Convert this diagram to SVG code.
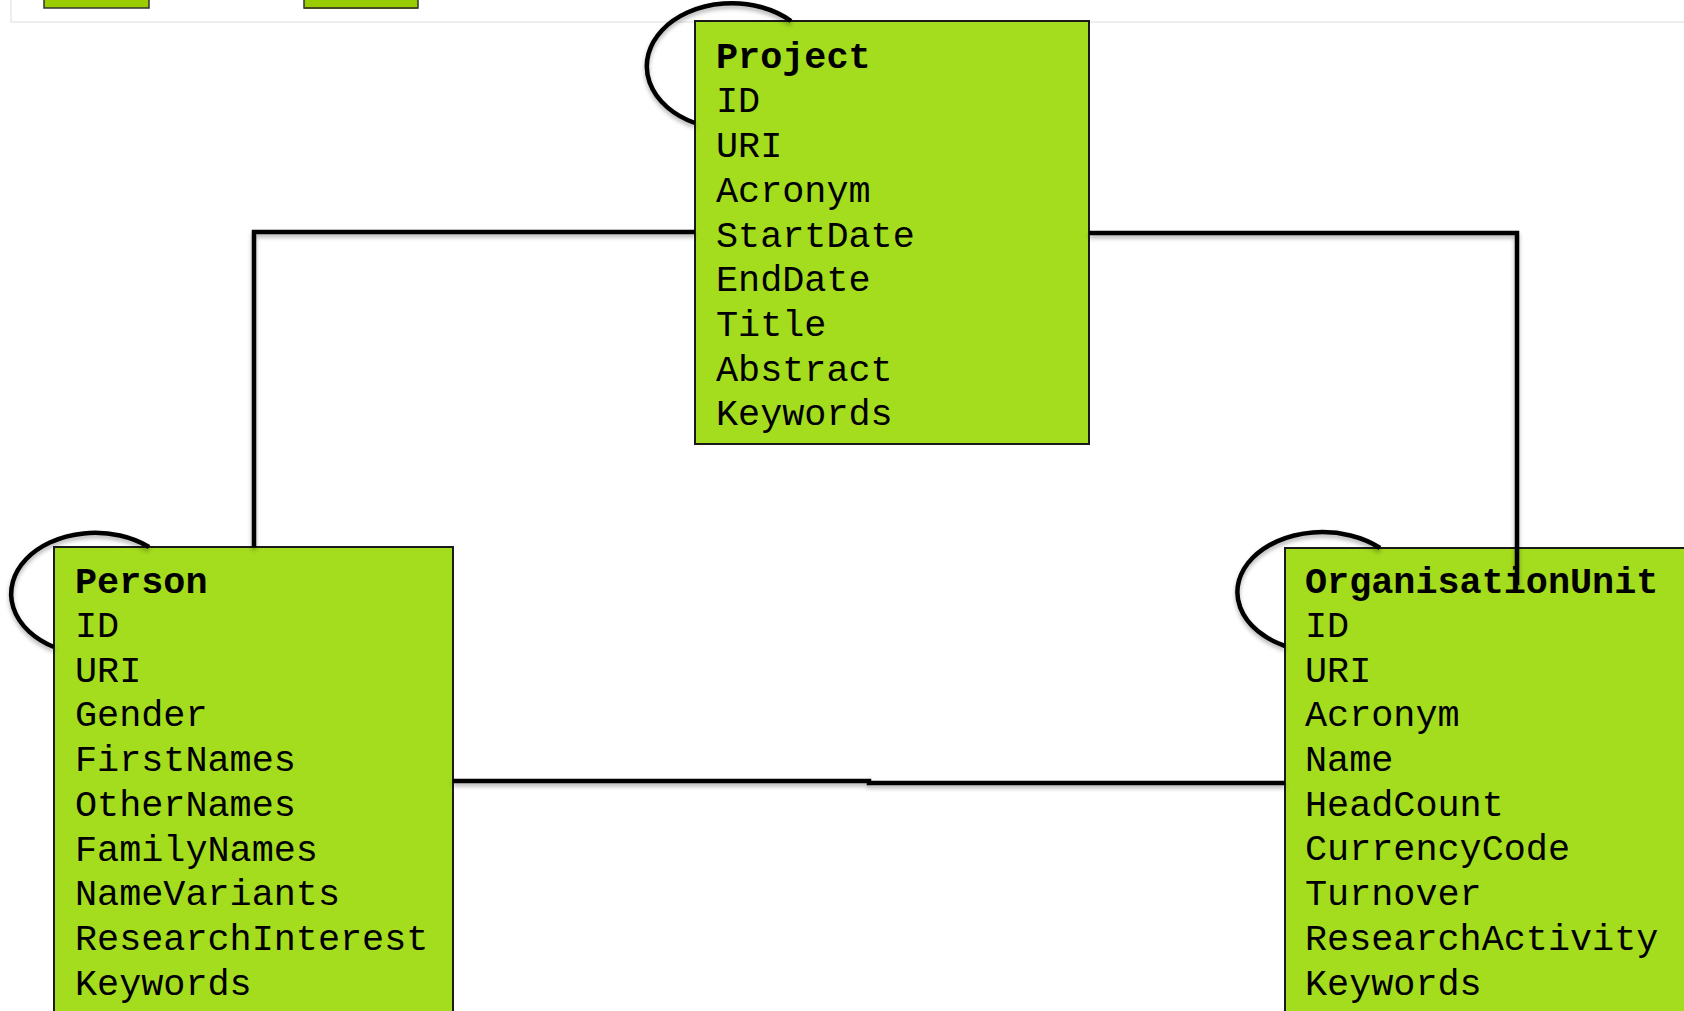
<svg xmlns="http://www.w3.org/2000/svg" width="1684" height="1011" viewBox="0 0 1684 1011">
<defs>
<filter id="sh" x="-5%" y="-20%" width="110%" height="140%">
<feDropShadow dx="0" dy="3" stdDeviation="2" flood-color="#000" flood-opacity="0.3"/>
</filter>
<style>
.box{fill:#A4DC1E;stroke:#1a1a1a;stroke-width:2}
.t{font-family:"Liberation Mono","Courier New",monospace;font-size:36.8px;fill:#000}
.b{font-weight:bold}
.c{fill:none;stroke:#000;stroke-width:4.5}
.mini{fill:#9ACD00;stroke:#333;stroke-width:1.5}
</style>
</defs>
<rect width="1684" height="1011" fill="#fff"/>
<g id="panel">
<rect x="11" y="-10" width="1700" height="32" fill="#fff" stroke="#eeeeee" stroke-width="2"/>
<rect class="mini" x="44" y="-5" width="105" height="13"/>
<rect class="mini" x="304" y="-5" width="114" height="13"/>
<line x1="304" y1="8" x2="418" y2="8" stroke="#4a4a20" stroke-width="2"/>
</g>
<g id="project">
<rect class="box" x="695" y="21" width="394" height="423"/>
<text class="t b" x="716" y="68">Project</text>
<text class="t" x="716" y="112">ID</text>
<text class="t" x="716" y="157">URI</text>
<text class="t" x="716" y="202">Acronym</text>
<text class="t" x="716" y="247">StartDate</text>
<text class="t" x="716" y="291">EndDate</text>
<text class="t" x="716" y="336">Title</text>
<text class="t" x="716" y="381">Abstract</text>
<text class="t" x="716" y="425">Keywords</text>
</g>
<g id="person">
<rect class="box" x="54" y="547" width="399" height="480"/>
<text class="t b" x="75" y="593">Person</text>
<text class="t" x="75" y="637">ID</text>
<text class="t" x="75" y="682">URI</text>
<text class="t" x="75" y="726">Gender</text>
<text class="t" x="75" y="771">FirstNames</text>
<text class="t" x="75" y="816">OtherNames</text>
<text class="t" x="75" y="861">FamilyNames</text>
<text class="t" x="75" y="905">NameVariants</text>
<text class="t" x="75" y="950">ResearchInterest</text>
<text class="t" x="75" y="995">Keywords</text>
</g>
<g id="organisationunit">
<rect class="box" x="1285" y="548" width="420" height="480"/>
<text class="t b" x="1305" y="593">OrganisationUnit</text>
<text class="t" x="1305" y="637">ID</text>
<text class="t" x="1305" y="682">URI</text>
<text class="t" x="1305" y="726">Acronym</text>
<text class="t" x="1305" y="771">Name</text>
<text class="t" x="1305" y="816">HeadCount</text>
<text class="t" x="1305" y="860">CurrencyCode</text>
<text class="t" x="1305" y="905">Turnover</text>
<text class="t" x="1305" y="950">ResearchActivity</text>
<text class="t" x="1305" y="995">Keywords</text>
</g>
<g id="connectors" filter="url(#sh)">
<path class="c" d="M 791 21 A 85 63 0 1 0 695 123"/>
<path class="c" d="M 149 547 A 84 61 0 1 0 54 647"/>
<path class="c" d="M 1380 548 A 85 60 0 1 0 1285 646"/>
<path class="c" d="M 254 547 L 254 232 L 695 232"/>
<path class="c" d="M 1089 233 L 1517 233 L 1517 585"/>
<path class="c" d="M 453 781 L 869 781 L 869 783 L 1285 783"/>
</g>
</svg>
